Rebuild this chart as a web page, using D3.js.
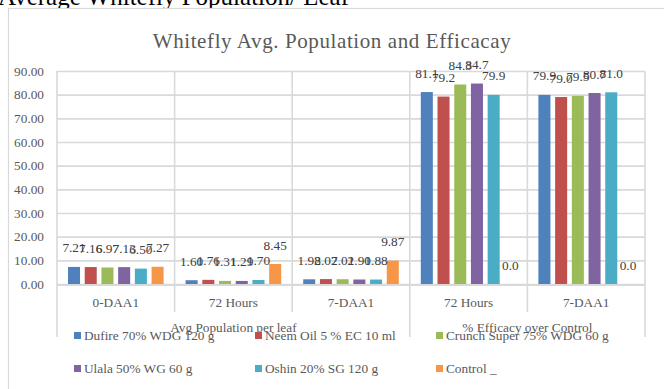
<!DOCTYPE html>
<html>
<head>
<meta charset="utf-8">
<script src="https://cdn.jsdelivr.net/npm/d3@7/dist/d3.min.js"></script>
<style>
  html, body { margin: 0; padding: 0; background: #ffffff; }
  svg { display: block; }
  text { font-family: "Liberation Serif", "DejaVu Serif", serif; }
</style>
</head>
<body>
<svg id="chart" width="664" height="389"></svg>
<script>
// Whitefly population per leaf and efficacy over control, by treatment
const categories = ["0-DAA1", "72 Hours", "7-DAA1", "72 Hours", "7-DAA1"];
const groupNames = ["Avg Population per leaf", "% Efficacy over Control"];
const groupSizes = [3, 2];
const labelFormats = [".2f", ".2f", ".2f", ".1f", ".1f"];

const seriesNames = [
  "Dufire 70% WDG 120 g",
  "Neem Oil 5 % EC 10 ml",
  "Crunch Super 75% WDG 60 g",
  "Ulala 50% WG 60 g",
  "Oshin 20% SG 120 g",
  "Control _"
];
const dufire  = [7.21, 1.60, 1.98, 81.1, 79.9];
const neemOil = [7.16, 1.76, 2.07, 79.2, 79.0];
const crunch  = [6.97, 1.31, 2.02, 84.3, 79.5];
const ulala   = [7.13, 1.29, 1.90, 84.7, 80.7];
const oshin   = [6.50, 1.70, 1.88, 79.9, 81.0];
const control = [7.27, 8.45, 9.87, 0.0, 0.0];
const seriesValues = [dufire, neemOil, crunch, ulala, oshin, control];

const yTicks = [0, 10, 20, 30, 40, 50, 60, 70, 80, 90];
const colors = ["#4F81BD", "#C0504D", "#9BBB59", "#8064A2", "#4BACC6", "#F79646"];

const svg = d3.select("#chart");
const gridColor = "#d9d9d9";
const textColor = "#595959";
const fs = 13.3;

// Page heading above the chart frame
svg.append("text")
  .attr("x", -2).attr("y", 5)
  .attr("font-size", 25)
  .attr("fill", "#000")
  .text("Average Whitefly Population/ Leaf");

// Chart frame
svg.append("rect")
  .attr("x", 8.5).attr("y", 8.5)
  .attr("width", 700).attr("height", 420)
  .attr("fill", "#fff")
  .attr("stroke", gridColor).attr("stroke-width", 1.2);

// Title
svg.append("text")
  .attr("x", 332).attr("y", 48)
  .attr("text-anchor", "middle")
  .attr("font-size", 21)
  .attr("letter-spacing", 0.6)
  .attr("fill", textColor)
  .text("Whitefly Avg. Population and Efficacay");

const plot = { left: 57, right: 645, top: 71, bottom: 284 };

const y = d3.scaleLinear().domain([0, 90]).range([plot.bottom, plot.top]);
const x0 = d3.scaleBand().domain(d3.range(categories.length)).range([plot.left, plot.right]);
const bw = x0.bandwidth();
const x1 = d3.scaleBand().domain(d3.range(seriesNames.length))
  .range([11, bw - 11]).paddingInner(0.28).paddingOuter(0);

// Y axis with gridlines
const yAxis = d3.axisLeft(y)
  .tickValues(yTicks)
  .tickFormat(d3.format(".2f"))
  .tickSize(-(plot.right - plot.left))
  .tickPadding(13);
const gy = svg.append("g")
  .attr("transform", `translate(${plot.left},0)`)
  .call(yAxis);
gy.select(".domain").remove();
gy.selectAll(".tick line").attr("stroke", gridColor).attr("stroke-width", 1.6);
gy.selectAll(".tick text")
  .attr("fill", textColor)
  .attr("font-size", fs)
  .attr("font-family", "Liberation Serif, serif");

// Vertical category separators through the plot and inner label row
const bounds = d3.range(categories.length + 1).map(i =>
  i < categories.length ? x0(i) : x0(categories.length - 1) + bw);
svg.append("g").selectAll("line")
  .data(bounds)
  .join("line")
  .attr("x1", d => d).attr("x2", d => d)
  .attr("y1", plot.top).attr("y2", 312)
  .attr("stroke", gridColor).attr("stroke-width", 1.6);

// Outer group separators through the group label row
let acc = 0;
const groupBounds = [bounds[0]];
groupSizes.forEach(n => { acc += n; groupBounds.push(bounds[acc]); });
svg.append("g").selectAll("line")
  .data(groupBounds)
  .join("line")
  .attr("x1", d => d).attr("x2", d => d)
  .attr("y1", 312).attr("y2", 337)
  .attr("stroke", gridColor).attr("stroke-width", 1.6);

// Category axis line
svg.append("line")
  .attr("x1", plot.left).attr("x2", plot.right)
  .attr("y1", plot.bottom + 1).attr("y2", plot.bottom + 1)
  .attr("stroke", gridColor).attr("stroke-width", 2);

// Bars
const cats = svg.append("g").selectAll("g")
  .data(categories.map((c, i) => i))
  .join("g")
  .attr("transform", i => `translate(${x0(i)},0)`);

cats.selectAll("rect")
  .data(ci => seriesValues.map((vals, si) => ({ si, v: vals[ci] })))
  .join("rect")
  .attr("x", d => x1(d.si))
  .attr("width", x1.bandwidth())
  .attr("y", d => y(d.v))
  .attr("height", d => y(0) - y(d.v))
  .attr("fill", d => colors[d.si]);

// Data labels
cats.selectAll("text")
  .data(ci => seriesValues.map((vals, si) => ({ si, v: vals[ci], f: labelFormats[ci] })))
  .join("text")
  .attr("x", d => x1(d.si) + x1.bandwidth() / 2)
  .attr("y", d => y(d.v) - 14.5)
  .attr("text-anchor", "middle")
  .attr("font-size", fs)
  .attr("fill", "#404040")
  .text(d => d3.format(d.f)(d.v));

// Category labels
svg.append("g").selectAll("text")
  .data(categories)
  .join("text")
  .attr("x", (d, i) => x0(i) + bw / 2)
  .attr("y", 306.5)
  .attr("text-anchor", "middle")
  .attr("font-size", fs)
  .attr("fill", textColor)
  .text(d => d);

// Group labels
svg.append("g").selectAll("text")
  .data(groupNames)
  .join("text")
  .attr("x", (d, i) => (groupBounds[i] + groupBounds[i + 1]) / 2)
  .attr("y", 331.5)
  .attr("text-anchor", "middle")
  .attr("font-size", fs)
  .attr("fill", textColor)
  .text(d => d);

// Legend
const legend = svg.append("g").selectAll("g")
  .data(seriesNames)
  .join("g")
  .attr("transform", (d, i) => `translate(${74 + (i % 3) * 181},${332 + Math.floor(i / 3) * 33})`);
legend.append("rect")
  .attr("width", 7).attr("height", 7)
  .attr("fill", (d, i) => colors[i]);
legend.append("text")
  .attr("x", 10).attr("y", 7.5)
  .attr("font-size", fs)
  .attr("fill", textColor)
  .text(d => d);
</script>
</body>
</html>
